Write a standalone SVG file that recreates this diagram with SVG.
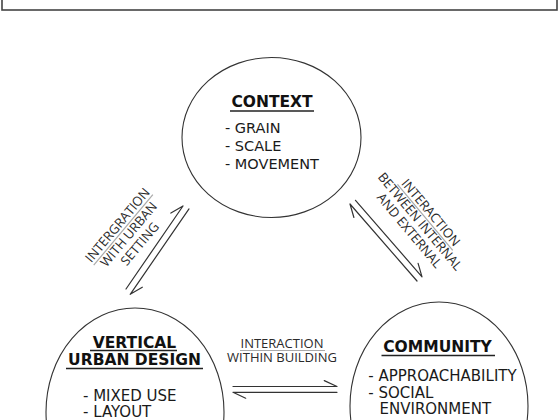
<svg xmlns="http://www.w3.org/2000/svg" width="560" height="420" viewBox="0 0 560 420">
<style>
.frame{fill:none;stroke:#444;stroke-width:1.6}
.node{fill:#fff;stroke:#333;stroke-width:1.1}
.head{font-family:"DejaVu Sans",Verdana,sans-serif;font-weight:bold;font-size:15.5px;fill:#111;text-anchor:middle}
.item{font-family:"DejaVu Sans",Verdana,sans-serif;font-size:15px;fill:#1a1a1a}
.hl{stroke:#222;stroke-width:1.5}
.lab{font-family:"Open Sans","DejaVu Sans",sans-serif;font-size:13px;fill:#2a2a2a;text-anchor:middle}
.ul{stroke:#aaa;stroke-width:1.2}
.arr{fill:none;stroke:#333;stroke-width:1.2;stroke-linecap:round}
</style>
<rect class="frame" x="2" y="-10" width="555" height="20"/>
<g id="context">
<ellipse class="node" cx="271.5" cy="137.5" rx="89.5" ry="80"/>
<text class="head" x="272" y="107">CONTEXT</text>
<line class="hl" x1="230" y1="111" x2="314" y2="111"/>
<text class="item" x="225" y="133" style="font-size:14.5px">- GRAIN</text>
<text class="item" x="225" y="151" style="font-size:14.5px">- SCALE</text>
<text class="item" x="225" y="169" style="font-size:14.5px">- MOVEMENT</text>
</g>
<g id="vertical-urban-design">
<ellipse class="node" cx="135" cy="412" rx="89" ry="104"/>
<text class="head" x="134.5" y="347.5">VERTICAL</text>
<line class="hl" x1="90" y1="350.5" x2="177" y2="350.5"/>
<text class="head" x="134.5" y="364.5">URBAN DESIGN</text>
<line class="hl" x1="66" y1="368.5" x2="203" y2="368.5"/>
<text class="item" x="83" y="401">- MIXED USE</text>
<text class="item" x="83" y="417">- LAYOUT</text>
</g>
<g id="community">
<ellipse class="node" cx="439" cy="406" rx="89" ry="104"/>
<text class="head" x="437.5" y="352">COMMUNITY</text>
<line class="hl" x1="381.5" y1="355.5" x2="495" y2="355.5"/>
<text class="item" x="368.3" y="381">- APPROACHABILITY</text>
<text class="item" x="368.3" y="397.5">- SOCIAL</text>
<text class="item" x="379.5" y="413.5">ENVIRONMENT</text>
</g>
<g id="connectors">
<path class="arr" d="M126,289 L183,206 M183,206 L170.9,213.1"/>
<path class="arr" d="M189,208.9 L130.2,294.3 M130.2,294.3 L142.3,287.2"/>
<path class="arr" d="M417,281 L350,204 M350,204 L353.9,217.5"/>
<path class="arr" d="M355.5,200.3 L422,276.8 M422,276.8 L418.1,263.3"/>
<path class="arr" d="M233,386.5 L337,386.5 M337,386.5 L324.3,380.6"/>
<path class="arr" d="M337,392.3 L233,392.3 M233,392.3 L245.7,398.2"/>
</g>
<g id="label-urban-setting" transform="translate(121,228) rotate(-50)">
<line class="ul" x1="-46" y1="3" x2="46" y2="3"/>
<text class="lab" x="0" y="0">INTERGRATION</text>
<text class="lab" x="0" y="14.5">WITH URBAN</text>
<text class="lab" x="0" y="29">SETTING</text>
</g>
<g id="label-internal-external" transform="translate(427.4,215.4) rotate(50)">
<line class="ul" x1="-43" y1="3" x2="43" y2="3"/>
<text class="lab" x="0" y="0">INTERACTION</text>
<text class="lab" x="0" y="14">BETWEEN INTERNAL</text>
<text class="lab" x="0" y="28">AND EXTERNAL</text>
</g>
<g id="label-within-building">
<line class="ul" x1="240" y1="350.5" x2="325" y2="350.5"/>
<text class="lab" x="282" y="347.7">INTERACTION</text>
<text class="lab" x="282" y="361.7">WITHIN BUILDING</text>
</g>
</svg>
